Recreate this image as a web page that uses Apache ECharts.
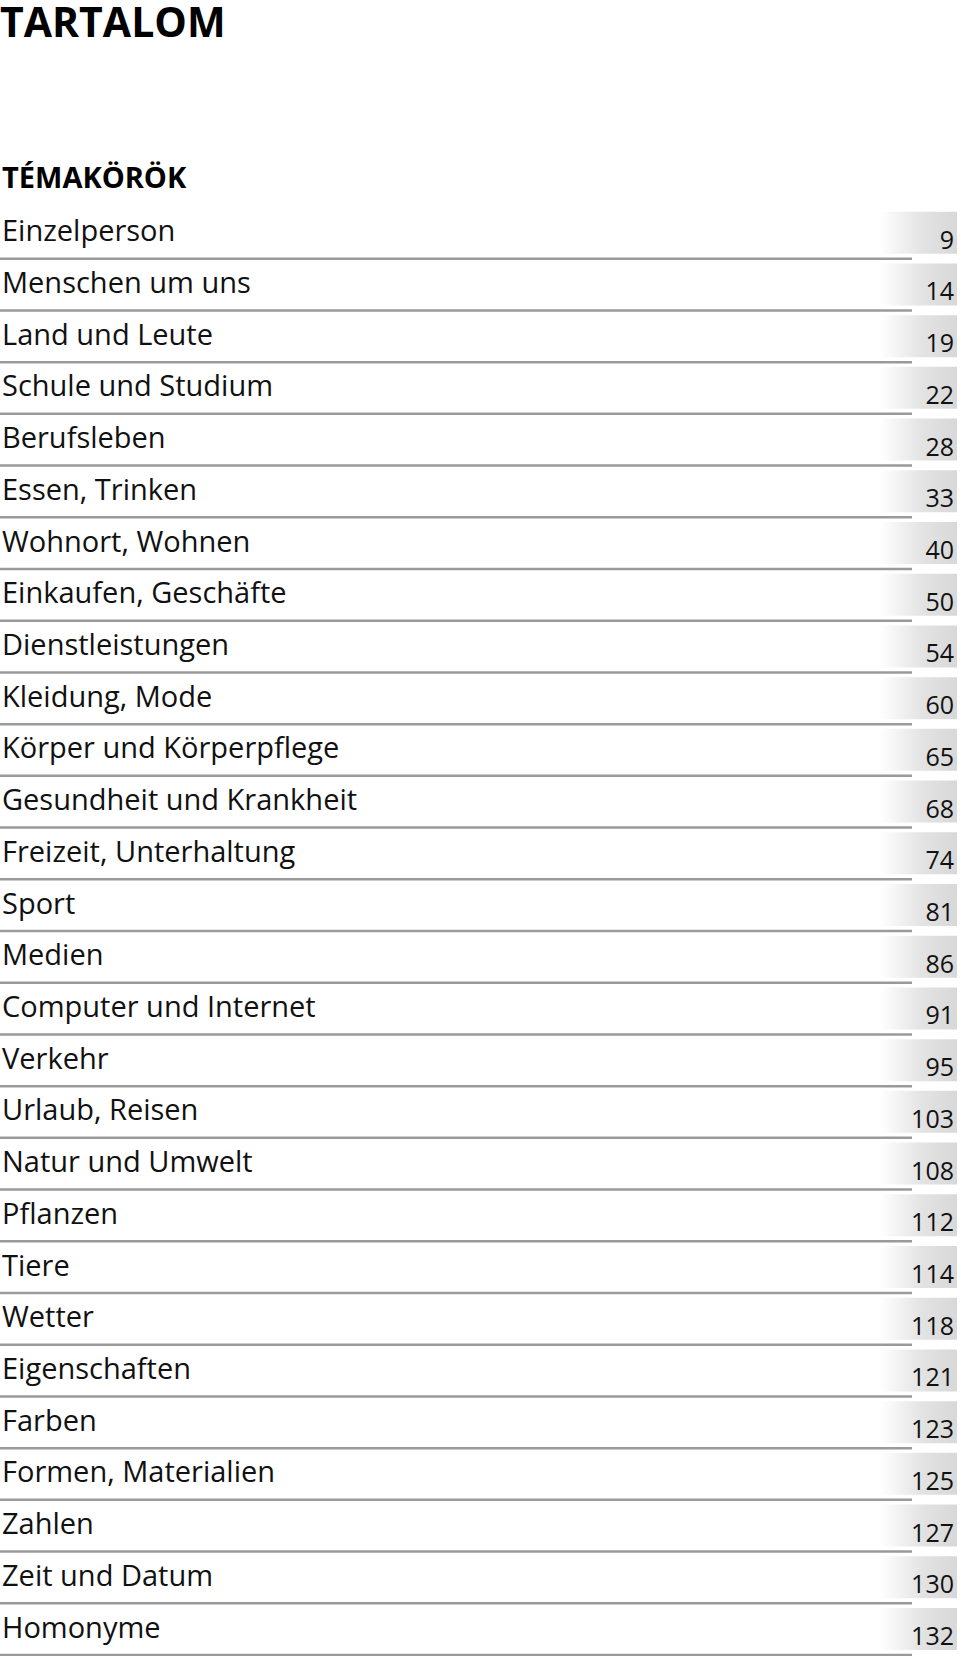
<!DOCTYPE html>
<html>
<head>
<meta charset="utf-8">
<script src="https://cdn.jsdelivr.net/npm/echarts@6/dist/echarts.min.js"></script>
<style>
html,body{margin:0;padding:0;background:#fff;}
#chart{width:960px;height:1656px;}
</style>
</head>
<body>
<div id="chart"></div>
<script>
var pageTitle = 'TARTALOM';
var sectionTitle = 'TÉMAKÖRÖK';
var topics = ['Einzelperson','Menschen um uns','Land und Leute','Schule und Studium','Berufsleben','Essen, Trinken','Wohnort, Wohnen','Einkaufen, Geschäfte','Dienstleistungen','Kleidung, Mode','Körper und Körperpflege','Gesundheit und Krankheit','Freizeit, Unterhaltung','Sport','Medien','Computer und Internet','Verkehr','Urlaub, Reisen','Natur und Umwelt','Pflanzen','Tiere','Wetter','Eigenschaften','Farben','Formen, Materialien','Zahlen','Zeit und Datum','Homonyme'];
var pages = [9,14,19,22,28,33,40,50,54,60,65,68,74,81,86,91,95,103,108,112,114,118,121,123,125,127,130,132];

var FONT = "'Open Sans', sans-serif";
var chart = echarts.init(document.getElementById('chart'), null, {renderer: 'svg'});

function renderItem(params, api) {
  var idx = api.value(1);
  var c = api.coord([0, idx]);
  var band = api.size([0, 1])[1];
  var yb = c[1] + band / 2;
  var xLineEnd = api.coord([912, idx])[0];
  var xBox = api.coord([880, idx])[0];
  var xBoxEnd = api.coord([957, idx])[0];
  var xNum = api.coord([954, idx])[0];
  var xLabel = api.coord([2, idx])[0];
  return {
    type: 'group',
    children: [
      {
        type: 'rect',
        shape: {x: xBox, y: yb - 47, width: xBoxEnd - xBox, height: 42},
        style: {
          fill: {type: 'linear', x: 0, y: 0, x2: 1, y2: 0,
            colorStops: [{offset: 0, color: '#ffffff'}, {offset: 0.55, color: '#e3e3e3'}, {offset: 1, color: '#d8d8d8'}]}
        }
      },
      {
        type: 'line',
        shape: {x1: 0, y1: yb, x2: xLineEnd, y2: yb},
        style: {stroke: '#9a9a9a', lineWidth: 2.5}
      },
      {
        type: 'text',
        style: {text: api.value(2), x: xLabel, y: yb - 29, align: 'left', verticalAlign: 'middle',
          fontSize: 29, fontFamily: FONT, fill: '#111111'}
      },
      {
        type: 'text',
        style: {text: String(api.value(3)), x: xNum, y: yb - 20, align: 'right', verticalAlign: 'middle',
          fontSize: 25, fontFamily: FONT, fill: '#111111'}
      }
    ]
  };
}

var data = topics.map(function (t, i) { return [0, i, t, pages[i]]; });

chart.setOption({
  animation: false,
  backgroundColor: '#ffffff',
  title: [
    {text: pageTitle, left: 0, top: 0, padding: 0,
      textStyle: {fontSize: 41, fontWeight: 'bold', fontFamily: FONT, color: '#000000', lineHeight: 41}},
    {text: sectionTitle, left: 2, top: 162, padding: 0,
      textStyle: {fontSize: 29, fontWeight: 'bold', fontFamily: FONT, color: '#000000', lineHeight: 29}}
  ],
  grid: {left: 0, right: 0, top: 207, height: 1448},
  xAxis: {type: 'value', min: 0, max: 960, show: false},
  yAxis: {type: 'category', inverse: true, data: topics, show: false},
  series: [{
    type: 'custom',
    renderItem: renderItem,
    encode: {x: 0, y: 1},
    data: data,
    clip: false
  }]
});
</script>
</body>
</html>
